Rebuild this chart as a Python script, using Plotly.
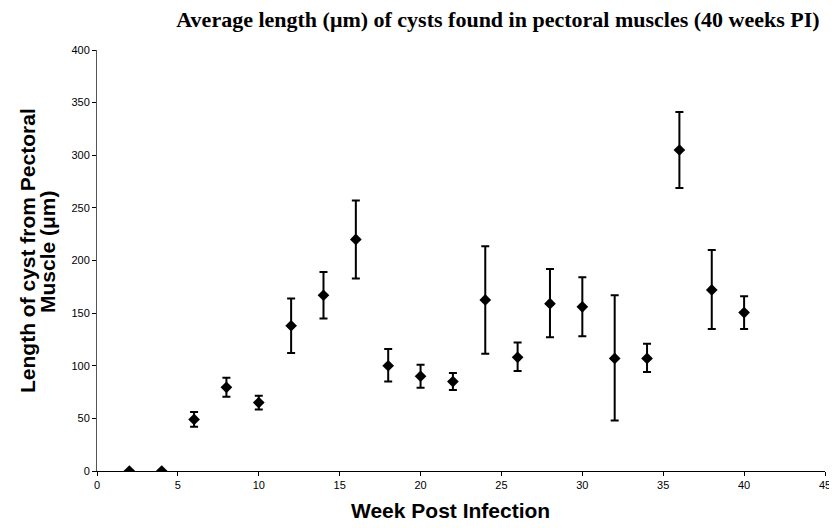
import plotly.graph_objects as go

weeks = [2, 4, 6, 8, 10, 12, 14, 16, 18, 20, 22, 24, 26, 28, 30, 32, 34, 36, 38, 40]
mean_len = [0, 0, 49, 79.5, 65, 138, 167, 220, 100, 90, 85, 162.5, 108, 159, 156, 107, 107, 305, 172, 150.5]
err_up = [0, 0, 7, 9, 6.5, 26, 22, 37, 16, 11, 8, 51, 14, 33, 28, 60, 14, 36, 38, 15.5]
err_down = [0, 0, 7, 9, 6.5, 26, 22, 37, 15, 11, 8, 51, 13, 32, 28, 59, 13, 36, 37, 15.5]

x_ticks = [0, 5, 10, 15, 20, 25, 30, 35, 40, 45]
y_ticks = [0, 50, 100, 150, 200, 250, 300, 350, 400]

# page body has an 8px margin; the figure is sized so that it fills the window
OFF = 8
W, H = 837 - OFF, 528 - OFF
L, R, T, B = 97 - OFF, 12, 50 - OFF, 57
PW, PH = W - L - R, H - T - B

def px_x(p):
    return (p - OFF - L) / PW

def px_y(p):
    return (H - B - (p - OFF)) / PH

fig = go.Figure()
fig.add_trace(go.Scatter(
    x=weeks, y=mean_len, mode="markers",
    marker=dict(symbol="diamond", size=9, color="black"),
    error_y=dict(type="data", symmetric=False, array=err_up, arrayminus=err_down,
                 color="black", thickness=2, width=4),
    showlegend=False,
))

ann_font = dict(family="Liberation Sans", size=21, color="black")
fig.add_annotation(text="<b>Length of cyst from Pectoral</b>", xref="paper", yref="paper",
                   x=px_x(27), y=px_y(251), xanchor="center", yanchor="middle",
                   textangle=-90, showarrow=False, font=ann_font)
fig.add_annotation(text="<b>Muscle (μm)</b>", xref="paper", yref="paper",
                   x=px_x(47), y=px_y(251), xanchor="center", yanchor="middle",
                   textangle=-90, showarrow=False, font=ann_font)
fig.add_annotation(text="<b>Week Post Infection</b>", xref="paper", yref="paper",
                   x=px_x(450), y=px_y(510), xanchor="center", yanchor="middle",
                   showarrow=False, font=ann_font)

fig.update_layout(
    width=W, height=H,
    margin=dict(l=L, r=R, t=T, b=B, autoexpand=False),
    paper_bgcolor="white", plot_bgcolor="white",
    title=dict(text="Average length (μm) of cysts found in pectoral muscles (40 weeks PI)",
               x=(498 - OFF) / W, xanchor="center", y=1 - (19 - OFF) / H, yanchor="middle",
               font=dict(family="Liberation Serif", size=22, color="black", weight="bold")),
    xaxis=dict(range=[0, 45], tickvals=x_ticks, showgrid=False, zeroline=False,
               showline=True, linecolor="black", linewidth=1,
               ticks="outside", ticklen=4, tickcolor="black",
               tickfont=dict(family="Liberation Sans", size=11, color="black")),
    yaxis=dict(range=[0, 400], tickvals=y_ticks, showgrid=False, zeroline=False,
               showline=True, linecolor="#555555", linewidth=1,
               ticks="outside", ticklen=4, tickcolor="black",
               tickfont=dict(family="Liberation Sans", size=11, color="black")),
)

fig.write_html("out.html")
